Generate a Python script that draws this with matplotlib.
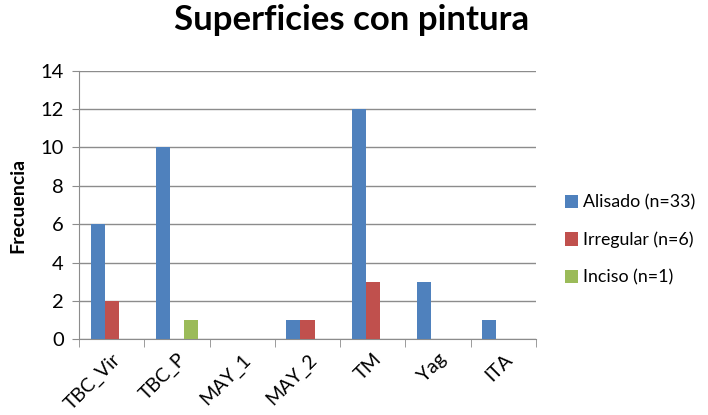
import numpy as np
from matplotlib import pyplot as plt

plt.rcParams['font.family'] = ['Lato', 'DejaVu Sans']

categorias = ['TBC_Vir', 'TBC_P', 'MAY_1', 'MAY_2', 'TM', 'Yag', 'ITA']
alisado = [6, 10, 0, 1, 12, 3, 1]
irregular = [2, 0, 0, 1, 3, 0, 0]
inciso = [0, 1, 0, 0, 0, 0, 0]
series = ['Alisado (n=33)', 'Irregular (n=6)', 'Inciso (n=1)']
colores = ['#4F81BD', '#C0504D', '#9BBB59']

fig = plt.figure(figsize=(7.08, 4.15), dpi=100)
ax = fig.add_axes([0.1116, 0.1824, 0.6454, 0.6472])

x = np.arange(len(categorias))
w = 0.215
for i, (vals, lab, c) in enumerate(zip([alisado, irregular, inciso], series, colores)):
    ax.bar(x + (i - 1) * w, vals, width=w, color=c, label=lab, zorder=3)

ax.set_xlim(-0.5, len(categorias) - 0.5)
ax.set_ylim(0, 14)
ax.set_yticks(range(0, 15, 2))
ax.yaxis.grid(True, color='#8c8c8c', linewidth=1, zorder=0)
for s in ['top', 'right']:
    ax.spines[s].set_visible(False)
for s in ['left', 'bottom']:
    ax.spines[s].set_color('#8c8c8c')
ax.tick_params(axis='y', length=5, color='#8c8c8c', labelsize=14.5, pad=6)
ax.set_xticks(x)
ax.set_xticklabels(categorias, rotation=45, ha='right', rotation_mode='anchor', fontsize=14)
ax.set_xticks(np.arange(-0.5, len(categorias)), minor=True)
ax.tick_params(axis='x', which='major', length=0, pad=8)
ax.tick_params(axis='x', which='minor', length=6, color='#8c8c8c')

ax.set_ylabel('Frecuencia', fontsize=14, fontweight='bold', labelpad=10)
fig.suptitle('Superficies con pintura', fontsize=25, fontweight='bold', x=0.497, y=0.99)

ax.legend(loc='center left', bbox_to_anchor=(1.04, 0.37), frameon=False, fontsize=12.8,
          handlelength=0.75, handleheight=0.75, handletextpad=0.25, labelspacing=1.2,
          borderaxespad=0.2)

fig.savefig('out.png', dpi=100)
